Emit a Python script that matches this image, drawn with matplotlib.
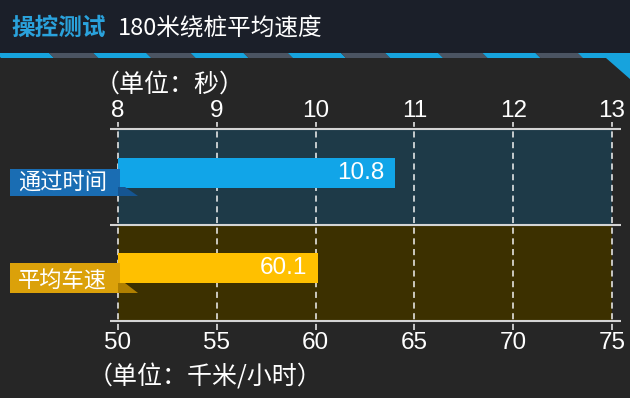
import matplotlib.pyplot as plt
from matplotlib.patches import Polygon, Rectangle

# data
time_label = "通过时间"
time_value = 10.8
time_ticks = [8, 9, 10, 11, 12, 13]

speed_label = "平均车速"
speed_value = 60.1
speed_ticks = [50, 55, 60, 65, 70, 75]

title_tag = "操控测试"
title_text = "180米绕桩平均速度"
time_unit = "（单位：秒）"
speed_unit = "（单位：千米/小时）"

W, H = 630, 398
BG = "#262626"
HEADER = "#1b1f29"
STRIPE_BLUE = "#17a3dd"
STRIPE_GRAY = "#4b5462"
BAR_BLUE = "#11a5e8"
BAR_GOLD = "#ffc000"

plt.rcParams["font.family"] = ["Noto Sans CJK SC", "DejaVu Sans"]
NUM_FONT = ["Liberation Sans", "DejaVu Sans"]

fig = plt.figure(figsize=(W / 100, H / 100), dpi=100)
fig.patch.set_facecolor(BG)


def fx(x):
    return x / W


def fy(y):
    return 1 - y / H


def fig_poly(points, color, z=1):
    fig.patches.append(
        Polygon([(fx(x), fy(y)) for x, y in points], closed=True,
                transform=fig.transFigure, facecolor=color,
                edgecolor="none", zorder=z)
    )


# header band and slanted stripe
fig.patches.append(
    Rectangle((0, fy(53)), 1, 53 / H, transform=fig.transFigure,
              facecolor=HEADER, edgecolor="none", zorder=0)
)
period = 97.3
for k in range(8):
    x0 = -4 + period * k
    fig_poly([(x0, 53), (x0 + 53, 53), (x0 + 58, 58), (x0 + 5, 58)], STRIPE_BLUE)
    fig_poly([(x0 + 53, 53), (x0 + period, 53), (x0 + period + 5, 58),
              (x0 + 58, 58)], STRIPE_GRAY)
fig_poly([(578, 53), (630, 53), (630, 79), (606, 58), (583, 58)], STRIPE_BLUE)

fig.text(fx(11), fy(28), title_tag, color="#2aa2dc", fontsize=17,
         fontweight="bold", ha="left", va="center")
fig.text(fx(118), fy(28), title_text, color="white", fontsize=17,
         ha="left", va="center")

# plot area
ax = fig.add_axes([fx(118), fy(321), 494 / W, 192 / H])
ax.set_facecolor("none")
ax.set_xlim(time_ticks[0], time_ticks[-1])
ax.set_ylim(0, 2)
for s in ax.spines.values():
    s.set_visible(False)

ax.axhspan(1, 2, color="#1e3a48", zorder=0)
ax.axhspan(0, 1, color="#3c3000", zorder=0)

unit = 494 / (time_ticks[-1] - time_ticks[0])
ax.hlines([0, 1, 2], time_ticks[0] - 8 / unit, time_ticks[-1] + 9 / unit,
          color="#d4d4d4", linewidth=1.5, clip_on=False, zorder=3)
ax.vlines(time_ticks, -9 / 96, 2 + 7 / 96, color="#f2f2f2", linewidth=1.1,
          linestyles=(0, (4, 3)), clip_on=False, zorder=3)

bar_h = 30 / 96
ax.barh([1.54], [time_value], height=bar_h, color=BAR_BLUE, zorder=5)
ax.annotate(f"{time_value}", xy=(time_value, 1.54), xytext=(-10, 0),
            textcoords="offset pixels", ha="right", va="center",
            color="white", fontsize=17.5, family=NUM_FONT, zorder=6)
ax.set_yticks([])

ax2 = ax.twiny()
ax2.set_xlim(speed_ticks[0], speed_ticks[-1])
ax2.set_ylim(0, 2)
for s in ax2.spines.values():
    s.set_visible(False)
ax2.barh([0.55], [speed_value], height=bar_h, color=BAR_GOLD, zorder=5)
ax2.annotate(f"{speed_value}", xy=(speed_value, 0.55), xytext=(-10, 0),
             textcoords="offset pixels", ha="right", va="center",
             color="white", fontsize=17.5, family=NUM_FONT, zorder=6)
ax2.set_yticks([])

# twiny flips the original axis to the bottom, so set sides afterwards
ax.xaxis.tick_top()
ax.set_xticks(time_ticks)
ax.set_xticklabels([str(t) for t in time_ticks], family=NUM_FONT)
ax.tick_params(axis="x", length=0, pad=5, labelsize=17.5, colors="white")

ax2.xaxis.tick_bottom()
ax2.set_xticks(speed_ticks)
ax2.set_xticklabels([str(t) for t in speed_ticks], family=NUM_FONT)
ax2.tick_params(axis="x", length=0, pad=8, labelsize=17.5, colors="white")

# category ribbons on the left
fig_poly([(10, 169), (120, 169), (120, 196), (10, 196)], "#1a6db3", z=0.5)
fig_poly([(118, 187), (125, 187), (138, 196), (118, 196)], "#155592", z=0.5)
fig.text(fx(18), fy(183), time_label, color="white", fontsize=16,
         ha="left", va="center")

fig_poly([(10, 263), (120, 263), (120, 293), (10, 293)], "#dba10a", z=0.5)
fig_poly([(118, 283), (125, 283), (138, 293), (118, 293)], "#b07f00", z=0.5)
fig.text(fx(18), fy(281), speed_label, color="white", fontsize=16,
         ha="left", va="center")

fig.text(fx(95), fy(85), time_unit, color="white", fontsize=18,
         ha="left", va="center")
fig.text(fx(88), fy(377), speed_unit, color="white", fontsize=18,
         ha="left", va="center")

fig.savefig("out.png", dpi=100, facecolor=BG)
